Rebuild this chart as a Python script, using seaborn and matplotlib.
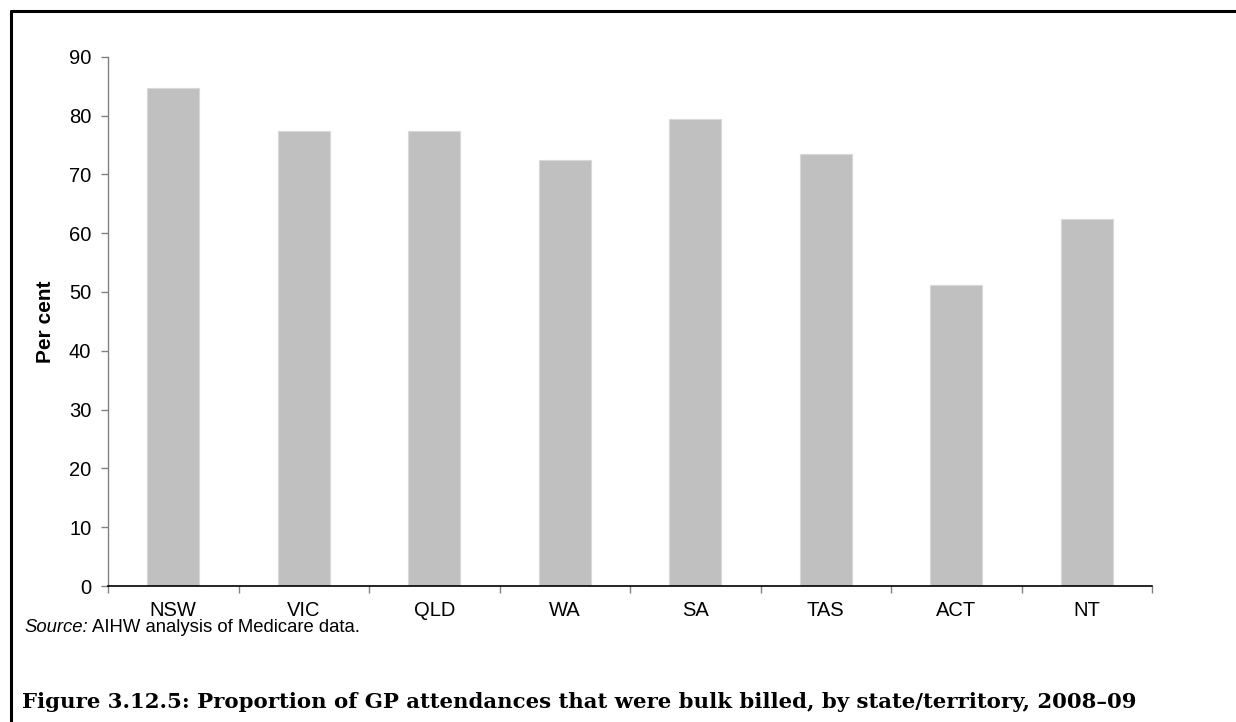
import numpy as np
import pandas as pd
import seaborn as sns
import matplotlib.pyplot as plt
from matplotlib.lines import Line2D

# ===============================
# Data
# ===============================
states = ['NSW', 'VIC', 'QLD', 'WA', 'SA', 'TAS', 'ACT', 'NT']
per_cent = [84.6, 77.3, 77.4, 72.4, 79.4, 73.5, 51.1, 62.4]
y_ticks = [0, 10, 20, 30, 40, 50, 60, 70, 80, 90]

df = pd.DataFrame({'state': states, 'per_cent': per_cent})

# ===============================
# Figure
# ===============================
sns.set_theme(style='white')
plt.rcParams['font.family'] = ['Liberation Sans', 'DejaVu Sans']

W, H = 1236, 722
fig = plt.figure(figsize=(W / 100, H / 100), dpi=100)
ax = fig.add_axes([108 / W, 1 - 586 / H, 1044 / W, 529.3 / H])

sns.barplot(data=df, x='state', y='per_cent', color='#c0c0c0', width=0.4,
            saturation=1, edgecolor='#d9d9d9', linewidth=0.8, ax=ax)

ax.set_xlim(-0.5, len(states) - 0.5)
ax.set_ylim(0, 90)
ax.set_yticks(y_ticks)
ax.set_xlabel('')
ax.set_ylabel('Per cent', fontsize=15, fontweight='bold', color='black', labelpad=10)

# category boundary ticks
ax.set_xticks(np.arange(len(states) + 1) - 0.5, minor=True)
ax.tick_params(axis='x', which='major', length=0, labelsize=14.5, labelcolor='black', pad=11)
ax.tick_params(axis='x', which='minor', length=5, width=1, color='#808080',
               direction='out', bottom=True)
ax.tick_params(axis='y', which='major', length=5, width=1, color='#808080',
               direction='out', left=True, labelsize=14.5, labelcolor='black', pad=7)

for s in ['top', 'right']:
    ax.spines[s].set_visible(False)
ax.spines['left'].set_color('#808080')
ax.spines['left'].set_linewidth(1)
ax.spines['bottom'].set_color('black')
ax.spines['bottom'].set_linewidth(1.2)

# source note and caption
src = fig.text(24 / W, 1 - 628 / H, 'Source:', fontsize=13.3, style='italic',
               color='black', va='center', ha='left')
fig.canvas.draw()
bb = src.get_window_extent()
fig.text((bb.x1 + 4) / W, 1 - 628 / H, 'AIHW analysis of Medicare data.', fontsize=13.3,
         color='black', va='center', ha='left')
fig.text(22 / W, 1 - 702 / H,
         'Figure 3.12.5: Proportion of GP attendances that were bulk billed, by state/territory, 2008\u201309',
         fontsize=15.3, fontweight='bold', family=['DejaVu Serif'], color='black',
         va='center', ha='left')

# frame lines (top and left)
fig.add_artist(Line2D([11 / W, 1], [1 - 11 / H, 1 - 11 / H],
                      transform=fig.transFigure, color='black', linewidth=2.2))
fig.add_artist(Line2D([11 / W, 11 / W], [0, 1 - 11 / H],
                      transform=fig.transFigure, color='black', linewidth=2.2))

fig.savefig('out.png', dpi=100)
